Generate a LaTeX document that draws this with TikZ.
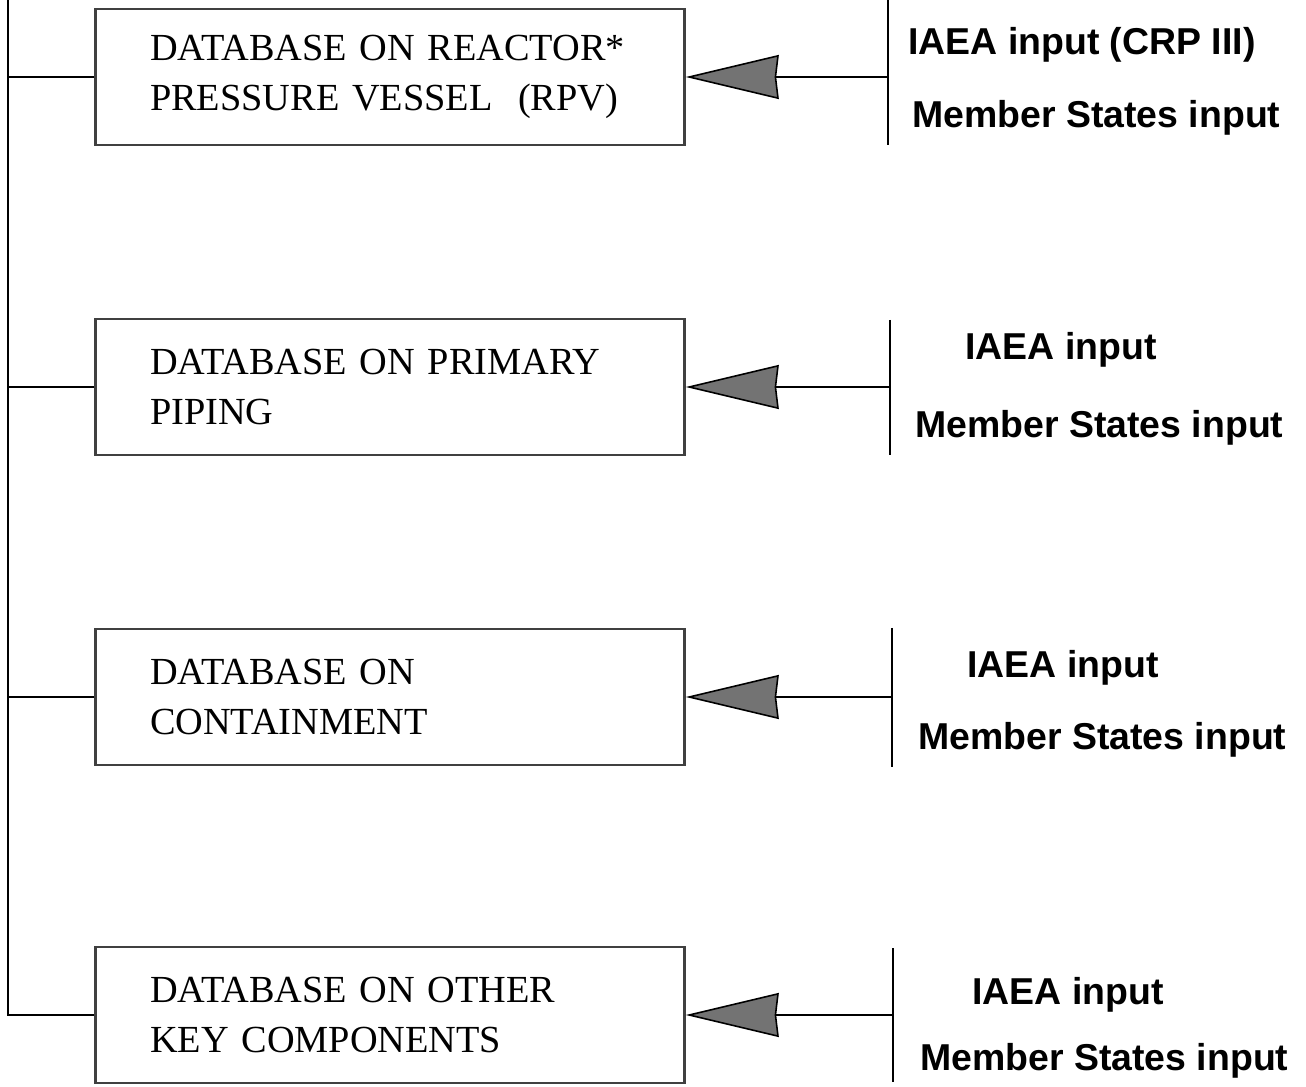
\documentclass[tikz,border=0pt]{standalone}
\usepackage{fontspec}
\setmainfont{Liberation Serif}
\newfontfamily\labelfont{Liberation Sans}
\usetikzlibrary{arrows.meta}

\tikzset{
    dbbox/.style={draw=black!75, line width=1.5pt, minimum width=11.78cm, minimum height=2.72cm,
        text width=9.6cm, align=left, inner xsep=1.08cm,
        font=\fontsize{21.8}{28}\selectfont},
    inlabel/.style={anchor=west, inner sep=0pt, font=\labelfont\bfseries\fontsize{21.3}{24}\selectfont},
    feed/.style={line width=0.9pt, -{Stealth[length=1.86cm, width=0.88cm, inset=0.05cm, fill=black!55]}},
    bar/.style={line width=1.1pt}
}

\begin{document}
\begin{tikzpicture}[x=0.02cm, y=-0.02cm]
    \useasboundingbox (0,0) rectangle (1306,1087);

    % Database boxes
    \node[dbbox] (rpv) at (390,77) {DATABASE ON REACTOR*\\PRESSURE VESSEL\ \ (RPV)};
    \node[dbbox] (piping) at (390,387) {DATABASE ON PRIMARY\\PIPING};
    \node[dbbox] (contain) at (390,697) {DATABASE ON\\CONTAINMENT};
    \node[dbbox] (other) at (390,1015) {DATABASE ON OTHER\\KEY COMPONENTS};

    % Line on the left joining the boxes
    \coordinate (spine) at (8,0);
    \draw[bar] (spine) |- (other.west);
    \draw[bar] (rpv.west) -- (rpv.west -| spine);
    \draw[bar] (piping.west) -- (piping.west -| spine);
    \draw[bar] (contain.west) -- (contain.west -| spine);

    % Input bars on the right
    \draw[bar] (888,0) -- (888,145);
    \draw[bar] (890,320) -- (890,455);
    \draw[bar] (892,628) -- (892,767);
    \draw[bar] (893,948) -- (893,1082);
    \coordinate (in1) at (888,77);
    \coordinate (in2) at (890,387);
    \coordinate (in3) at (892,697);
    \coordinate (in4) at (893,1015);

    \draw[feed] (in1) -- (rpv.east);
    \draw[feed] (in2) -- (piping.east);
    \draw[feed] (in3) -- (contain.east);
    \draw[feed] (in4) -- (other.east);

    % Input labels
    \node[inlabel] (iaea1) at (908,45) {IAEA input (CRP III)};
    \node[inlabel] (ms1) at (912,118) {Member States input};
    \node[inlabel] (iaea2) at (965,350) {IAEA input};
    \node[inlabel] (ms2) at (915,428) {Member States input};
    \node[inlabel] (iaea3) at (967,668) {IAEA input};
    \node[inlabel] (ms3) at (918,740) {Member States input};
    \node[inlabel] (iaea4) at (972,995) {IAEA input};
    \node[inlabel] (ms4) at (920,1061) {Member States input};

\end{tikzpicture}
\end{document}
